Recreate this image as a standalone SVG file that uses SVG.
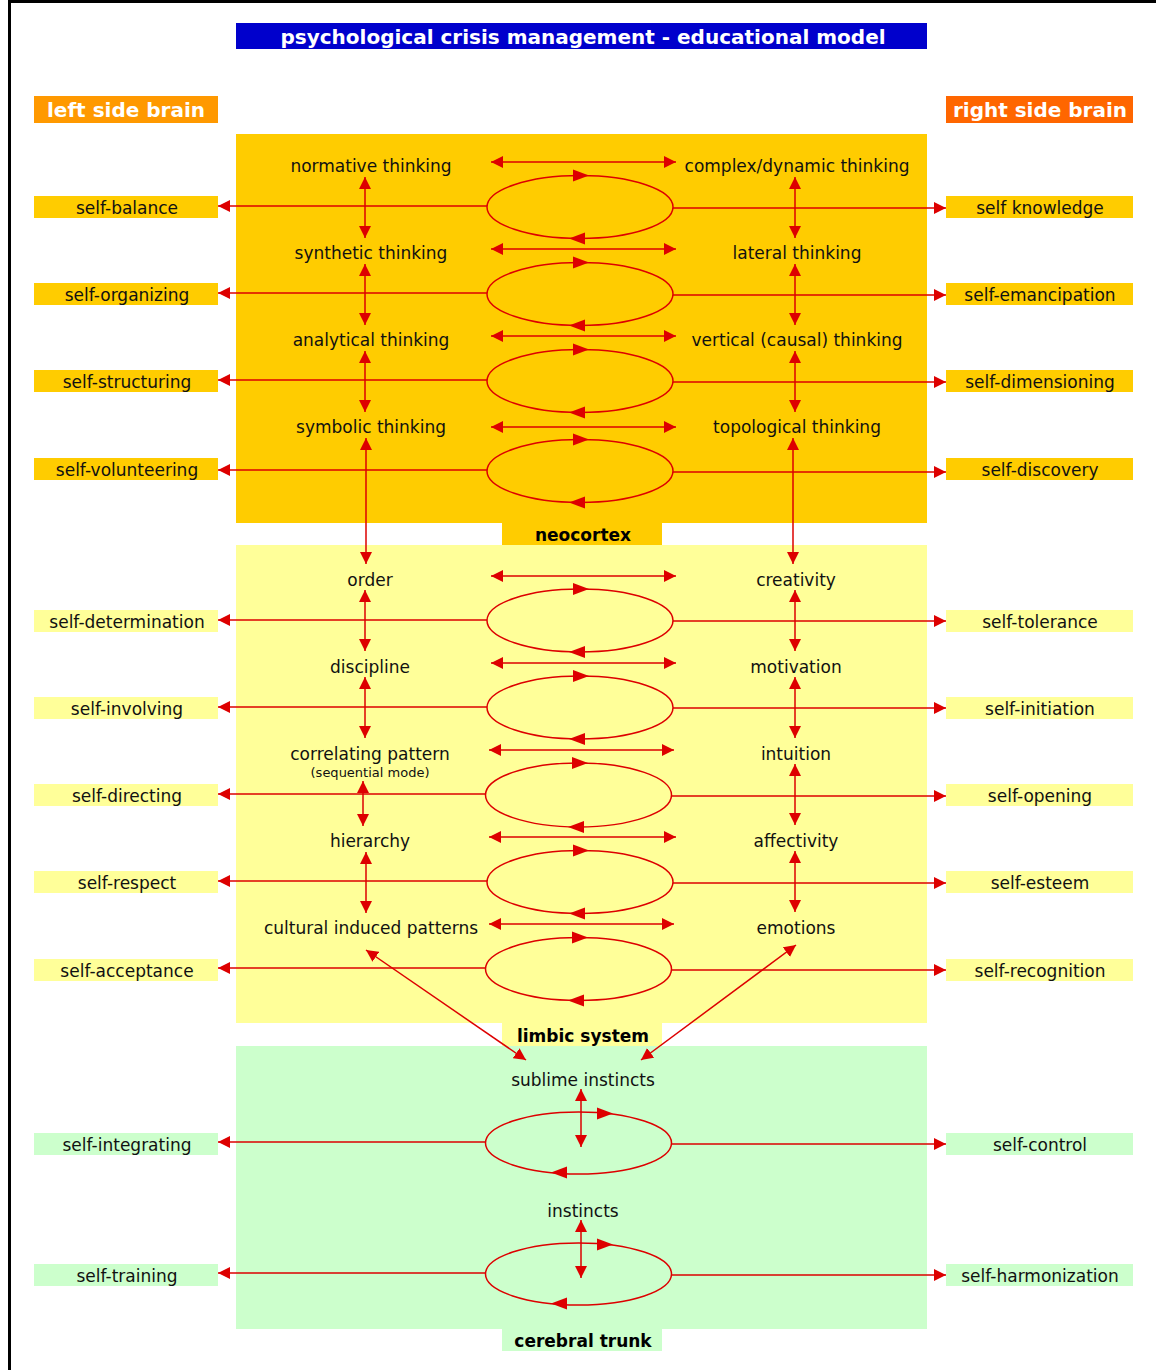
<svg xmlns="http://www.w3.org/2000/svg" xmlns:xlink="http://www.w3.org/1999/xlink" width="1156" height="1370" viewBox="0 0 1156 1370">
<defs>
<style>
.t{font-family:"DejaVu Sans",Verdana,sans-serif;font-size:17px;fill:#111;text-anchor:middle}
.s{font-family:"DejaVu Sans",Verdana,sans-serif;font-size:13px;fill:#111;text-anchor:middle}
.b{font-family:"DejaVu Sans",Verdana,sans-serif;font-size:17px;font-weight:bold;fill:#000;text-anchor:middle}
.h{font-family:"DejaVu Sans",Verdana,sans-serif;font-size:20px;font-weight:bold;fill:#fff;text-anchor:middle}
.ar{stroke:#DD0000;stroke-width:1.5;fill:none;marker-end:url(#m);marker-start:url(#m)}
.ae{stroke:#DD0000;stroke-width:1.5;fill:none;marker-end:url(#m)}
.el{stroke:#DD0000;stroke-width:1.5;fill:none}
.neo{fill:#FFCC00}.lim{fill:#FFFF99}.cer{fill:#CCFFCC}
</style>
<marker id="m" viewBox="0 0 12 12" refX="12" refY="6" markerWidth="12" markerHeight="12" markerUnits="userSpaceOnUse" orient="auto-start-reverse">
<path d="M0,0 L12,6 L0,12 z" fill="#DD0000"/>
</marker>
<path id="ah" d="M-8,-6 L8,0 L-8,6 z" fill="#DD0000"/>
</defs>
<rect width="1156" height="1370" fill="#fff"/>
<rect x="8" y="0" width="1148" height="3" fill="#000"/>
<rect x="8" y="0" width="3" height="1370" fill="#000"/>

<g id="title"><rect x="236" y="23" width="691" height="26" fill="#0000CC"/><text class="h" x="583" y="44">psychological crisis management - educational model</text></g>
<g id="left-brain"><rect x="34" y="96" width="184" height="27" fill="#FF9900"/><text class="h" x="126" y="117">left side brain</text></g>
<g id="right-brain"><rect x="946" y="96" width="187" height="27" fill="#FF6600"/><text class="h" x="1040" y="117">right side brain</text></g>

<g id="regions">
<rect class="neo" x="236" y="134" width="691" height="389"/>
<rect class="neo" x="502" y="523" width="160" height="22"/>
<rect class="lim" x="236" y="545" width="691" height="478"/>
<rect class="lim" x="502" y="1023" width="160" height="23"/>
<rect class="cer" x="236" y="1046" width="691" height="283"/>
<rect class="cer" x="502" y="1329" width="160" height="22"/>
<text class="b" x="583" y="541">neocortex</text>
<text class="b" x="583" y="1042">limbic system</text>
<text class="b" x="583" y="1347">cerebral trunk</text>
</g>

<g id="side-labels">
<rect class="neo" x="34" y="196" width="184" height="22"/><text class="t" x="127" y="214">self-balance</text>
<rect class="neo" x="946" y="196" width="187" height="22"/><text class="t" x="1040" y="214">self knowledge</text>
<rect class="neo" x="34" y="283" width="184" height="22"/><text class="t" x="127" y="301">self-organizing</text>
<rect class="neo" x="946" y="283" width="187" height="22"/><text class="t" x="1040" y="301">self-emancipation</text>
<rect class="neo" x="34" y="370" width="184" height="22"/><text class="t" x="127" y="388">self-structuring</text>
<rect class="neo" x="946" y="370" width="187" height="22"/><text class="t" x="1040" y="388">self-dimensioning</text>
<rect class="neo" x="34" y="458" width="184" height="22"/><text class="t" x="127" y="476">self-volunteering</text>
<rect class="neo" x="946" y="458" width="187" height="22"/><text class="t" x="1040" y="476">self-discovery</text>

<rect class="lim" x="34" y="610" width="184" height="22"/><text class="t" x="127" y="628">self-determination</text>
<rect class="lim" x="946" y="610" width="187" height="22"/><text class="t" x="1040" y="628">self-tolerance</text>
<rect class="lim" x="34" y="697" width="184" height="22"/><text class="t" x="127" y="715">self-involving</text>
<rect class="lim" x="946" y="697" width="187" height="22"/><text class="t" x="1040" y="715">self-initiation</text>
<rect class="lim" x="34" y="784" width="184" height="22"/><text class="t" x="127" y="802">self-directing</text>
<rect class="lim" x="946" y="784" width="187" height="22"/><text class="t" x="1040" y="802">self-opening</text>
<rect class="lim" x="34" y="871" width="184" height="22"/><text class="t" x="127" y="889">self-respect</text>
<rect class="lim" x="946" y="871" width="187" height="22"/><text class="t" x="1040" y="889">self-esteem</text>
<rect class="lim" x="34" y="959" width="184" height="22"/><text class="t" x="127" y="977">self-acceptance</text>
<rect class="lim" x="946" y="959" width="187" height="22"/><text class="t" x="1040" y="977">self-recognition</text>

<rect class="cer" x="34" y="1133" width="184" height="22"/><text class="t" x="127" y="1151">self-integrating</text>
<rect class="cer" x="946" y="1133" width="187" height="22"/><text class="t" x="1040" y="1151">self-control</text>
<rect class="cer" x="34" y="1264" width="184" height="22"/><text class="t" x="127" y="1282">self-training</text>
<rect class="cer" x="946" y="1264" width="187" height="22"/><text class="t" x="1040" y="1282">self-harmonization</text>
</g>

<g id="modes">
<text class="t" x="371" y="172">normative thinking</text>
<text class="t" x="797" y="172">complex/dynamic thinking</text>
<text class="t" x="371" y="259">synthetic thinking</text>
<text class="t" x="797" y="259">lateral thinking</text>
<text class="t" x="371" y="346">analytical thinking</text>
<text class="t" x="797" y="346">vertical (causal) thinking</text>
<text class="t" x="371" y="433">symbolic thinking</text>
<text class="t" x="797" y="433">topological thinking</text>
<text class="t" x="370" y="586">order</text>
<text class="t" x="796" y="586">creativity</text>
<text class="t" x="370" y="673">discipline</text>
<text class="t" x="796" y="673">motivation</text>
<text class="t" x="370" y="760">correlating pattern</text>
<text class="s" x="370" y="777">(sequential mode)</text>
<text class="t" x="796" y="760">intuition</text>
<text class="t" x="370" y="847">hierarchy</text>
<text class="t" x="796" y="847">affectivity</text>
<text class="t" x="371" y="934">cultural induced patterns</text>
<text class="t" x="796" y="934">emotions</text>
<text class="t" x="583" y="1086">sublime instincts</text>
<text class="t" x="583" y="1217">instincts</text>
</g>

<g id="connectors">
<line class="ar" x1="491" y1="162" x2="676" y2="162"/>
<line class="ar" x1="491" y1="249" x2="676" y2="249"/>
<line class="ar" x1="491" y1="336" x2="676" y2="336"/>
<line class="ar" x1="491" y1="427" x2="676" y2="427"/>
<line class="ar" x1="491" y1="576" x2="676" y2="576"/>
<line class="ar" x1="491" y1="663" x2="676" y2="663"/>
<line class="ar" x1="489" y1="750" x2="674" y2="750"/>
<line class="ar" x1="489" y1="837" x2="676" y2="837"/>
<line class="ar" x1="489" y1="924" x2="674" y2="924"/>

<line class="ar" x1="365" y1="177" x2="365" y2="238"/>
<line class="ar" x1="365" y1="264" x2="365" y2="325"/>
<line class="ar" x1="365" y1="351" x2="365" y2="412"/>
<line class="ar" x1="366" y1="438" x2="366" y2="564"/>
<line class="ar" x1="365" y1="590" x2="365" y2="651"/>
<line class="ar" x1="365" y1="677" x2="365" y2="738"/>
<line class="ar" x1="363" y1="781" x2="363" y2="826"/>
<line class="ar" x1="366" y1="852" x2="366" y2="913"/>
<line class="ar" x1="795" y1="177" x2="795" y2="238"/>
<line class="ar" x1="795" y1="264" x2="795" y2="325"/>
<line class="ar" x1="795" y1="351" x2="795" y2="412"/>
<line class="ar" x1="793" y1="438" x2="793" y2="564"/>
<line class="ar" x1="795" y1="590" x2="795" y2="651"/>
<line class="ar" x1="795" y1="677" x2="795" y2="738"/>
<line class="ar" x1="795" y1="764" x2="795" y2="825"/>
<line class="ar" x1="795" y1="851" x2="795" y2="912"/>
<line class="ar" x1="366" y1="950" x2="526" y2="1060"/>
<line class="ar" x1="796" y1="945" x2="641" y2="1060"/>
<line class="ar" x1="581" y1="1089" x2="581" y2="1147"/>
<line class="ar" x1="581" y1="1220" x2="581" y2="1278"/>

<line class="ae" x1="487" y1="206" x2="218" y2="206"/>
<line class="ae" x1="487" y1="293" x2="218" y2="293"/>
<line class="ae" x1="487" y1="380" x2="218" y2="380"/>
<line class="ae" x1="487" y1="470" x2="218" y2="470"/>
<line class="ae" x1="487" y1="620" x2="218" y2="620"/>
<line class="ae" x1="487" y1="707" x2="218" y2="707"/>
<line class="ae" x1="485" y1="794" x2="218" y2="794"/>
<line class="ae" x1="487" y1="881" x2="218" y2="881"/>
<line class="ae" x1="485" y1="968" x2="218" y2="968"/>
<line class="ae" x1="486" y1="1142" x2="218" y2="1142"/>
<line class="ae" x1="486" y1="1273" x2="218" y2="1273"/>
<line class="ae" x1="673" y1="208" x2="946" y2="208"/>
<line class="ae" x1="673" y1="295" x2="946" y2="295"/>
<line class="ae" x1="673" y1="382" x2="946" y2="382"/>
<line class="ae" x1="673" y1="472" x2="946" y2="472"/>
<line class="ae" x1="673" y1="621" x2="946" y2="621"/>
<line class="ae" x1="673" y1="708" x2="946" y2="708"/>
<line class="ae" x1="672" y1="796" x2="946" y2="796"/>
<line class="ae" x1="673" y1="883" x2="946" y2="883"/>
<line class="ae" x1="672" y1="970" x2="946" y2="970"/>
<line class="ae" x1="672" y1="1144" x2="946" y2="1144"/>
<line class="ae" x1="672" y1="1275" x2="946" y2="1275"/>

<ellipse class="el" cx="580" cy="207" rx="93" ry="31.5"/>
<use xlink:href="#ah" href="#ah" transform="translate(581,175.5)"/>
<use xlink:href="#ah" href="#ah" transform="translate(577,238.5) rotate(180)"/>
<ellipse class="el" cx="580" cy="294" rx="93" ry="31.5"/>
<use xlink:href="#ah" href="#ah" transform="translate(581,262.5)"/>
<use xlink:href="#ah" href="#ah" transform="translate(577,325.5) rotate(180)"/>
<ellipse class="el" cx="580" cy="381" rx="93" ry="31.5"/>
<use xlink:href="#ah" href="#ah" transform="translate(581,349.5)"/>
<use xlink:href="#ah" href="#ah" transform="translate(577,412.5) rotate(180)"/>
<ellipse class="el" cx="580" cy="471" rx="93" ry="31.5"/>
<use xlink:href="#ah" href="#ah" transform="translate(581,439.5)"/>
<use xlink:href="#ah" href="#ah" transform="translate(577,502.5) rotate(180)"/>
<ellipse class="el" cx="580" cy="620.5" rx="93" ry="31.5"/>
<use xlink:href="#ah" href="#ah" transform="translate(581,589)"/>
<use xlink:href="#ah" href="#ah" transform="translate(577,652) rotate(180)"/>
<ellipse class="el" cx="580" cy="707.5" rx="93" ry="31.5"/>
<use xlink:href="#ah" href="#ah" transform="translate(581,676)"/>
<use xlink:href="#ah" href="#ah" transform="translate(577,739) rotate(180)"/>
<ellipse class="el" cx="578.5" cy="795" rx="93" ry="32"/>
<use xlink:href="#ah" href="#ah" transform="translate(580,763)"/>
<use xlink:href="#ah" href="#ah" transform="translate(576,827) rotate(180)"/>
<ellipse class="el" cx="580" cy="882" rx="93" ry="31.5"/>
<use xlink:href="#ah" href="#ah" transform="translate(581,850.5)"/>
<use xlink:href="#ah" href="#ah" transform="translate(577,913.5) rotate(180)"/>
<ellipse class="el" cx="578.5" cy="969" rx="93" ry="31.5"/>
<use xlink:href="#ah" href="#ah" transform="translate(580,937.5)"/>
<use xlink:href="#ah" href="#ah" transform="translate(576,1000.5) rotate(180)"/>
<ellipse class="el" cx="578.5" cy="1143" rx="93" ry="31"/>
<use xlink:href="#ah" href="#ah" transform="translate(605,1113.5)"/>
<use xlink:href="#ah" href="#ah" transform="translate(559,1172.5) rotate(180)"/>
<ellipse class="el" cx="578.5" cy="1274" rx="93" ry="31"/>
<use xlink:href="#ah" href="#ah" transform="translate(605,1244.5)"/>
<use xlink:href="#ah" href="#ah" transform="translate(559,1303.5) rotate(180)"/>
</g>
</svg>
